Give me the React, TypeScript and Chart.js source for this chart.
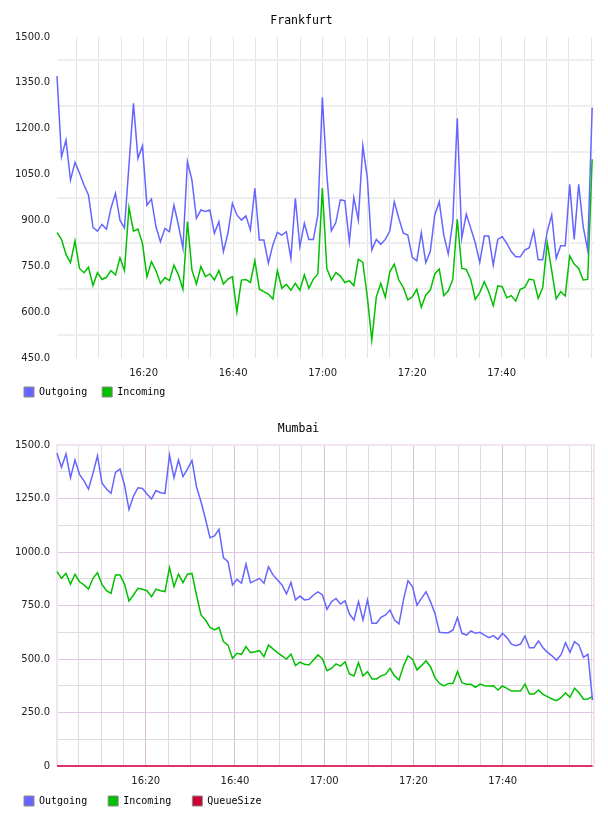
import React, { useEffect, useRef } from 'react';
import { Chart, registerables } from 'chart.js';

Chart.register(...registerables);

// ---------- data ----------
const frankfurtOutgoing = [
  1372, 1108, 1163, 1032, 1090, 1055, 1016, 983, 877, 865,
  887, 871, 940, 989, 901, 875, 1080, 1283, 1103, 1144,
  950, 970, 880, 830, 874, 863, 950, 885, 809, 1092,
  1032, 907, 934, 929, 934, 858, 896, 798, 858, 956,
  918, 901, 915, 869, 1005, 836, 836, 760, 820, 861,
  852, 863, 776, 972, 814, 891, 838, 838, 918, 1303,
  1050, 866, 893, 967, 965, 830, 975, 901, 1144, 1040,
  803, 838, 822, 838, 865, 961, 907, 858, 852, 779,
  768, 860, 762, 798, 918, 961, 852, 790, 896, 1234,
  842, 921, 874, 827, 763, 849, 849, 754, 838, 847,
  825, 798, 781, 781, 803, 811, 866, 771, 771, 863,
  918, 776, 817, 817, 1018, 838, 1018, 880, 803, 1269,
];
const frankfurtIncoming = [
  860, 838, 789, 762, 833, 743, 729, 747, 687, 729,
  707, 714, 736, 722, 778, 736, 943, 865, 872, 825,
  716, 765, 736, 694, 713, 703, 754, 722, 675, 896,
  738, 692, 749, 716, 725, 705, 736, 692, 708, 716,
  601, 705, 707, 697, 768, 675, 667, 659, 643, 736,
  678, 691, 672, 694, 672, 722, 678, 708, 725, 1005,
  743, 705, 729, 718, 697, 703, 686, 773, 763, 650,
  509, 650, 694, 649, 732, 757, 705, 681, 640, 650,
  675, 616, 656, 672, 725, 741, 654, 670, 707, 904,
  743, 740, 707, 642, 664, 700, 667, 621, 686, 683,
  647, 654, 636, 675, 681, 708, 705, 645, 680, 827,
  736, 643, 667, 653, 784, 757, 743, 705, 707, 1100,
];
const mumbaiOutgoing = [
  1461, 1396, 1458, 1347, 1430, 1363, 1332, 1294, 1368, 1450,
  1321, 1294, 1274, 1372, 1388, 1313, 1199, 1262, 1300, 1297,
  1271, 1248, 1287, 1277, 1274, 1453, 1347, 1430, 1352, 1388,
  1427, 1305, 1235, 1154, 1067, 1075, 1106, 973, 955, 846,
  872, 854, 944, 857, 866, 877, 854, 931, 893, 869,
  846, 804, 858, 776, 794, 776, 779, 799, 814, 799,
  732, 768, 783, 757, 772, 710, 682, 768, 682, 776,
  667, 667, 695, 706, 729, 682, 664, 776, 866, 838,
  752, 783, 814, 768, 713, 625, 623, 623, 636, 693,
  620, 612, 631, 620, 625, 612, 600, 609, 592, 620,
  600, 569, 562, 570, 607, 553, 553, 585, 553, 531,
  515, 495, 519, 576, 531, 581, 565, 508, 522, 308,
];
const mumbaiIncoming = [
  908, 877, 900, 850, 896, 861, 846, 827, 877, 903,
  849, 819, 807, 893, 893, 850, 771, 799, 830, 826,
  819, 791, 826, 819, 815, 927, 838, 897, 857, 896,
  900, 799, 706, 682, 648, 636, 648, 581, 565, 503,
  527, 522, 558, 530, 534, 539, 511, 565, 547, 530,
  515, 500, 523, 469, 485, 475, 472, 495, 519, 500,
  445, 456, 477, 467, 487, 430, 421, 483, 421, 441,
  407, 407, 421, 428, 456, 421, 402, 467, 514, 499,
  449, 469, 492, 464, 413, 386, 374, 386, 386, 441,
  389, 382, 382, 368, 383, 375, 374, 375, 355, 374,
  363, 350, 350, 350, 383, 336, 336, 355, 335, 324,
  313, 305, 319, 342, 321, 363, 342, 312, 313, 324,
];
const mumbaiQueueSize = [
  0, 0, 0, 0, 0, 0, 0, 0, 0, 0, 0, 0, 0, 0, 0, 0, 0, 0, 0, 0,
  0, 0, 0, 0, 0, 0, 0, 0, 0, 0, 0, 0, 0, 0, 0, 0, 0, 0, 0, 0,
  0, 0, 0, 0, 0, 0, 0, 0, 0, 0, 0, 0, 0, 0, 0, 0, 0, 0, 0, 0,
  0, 0, 0, 0, 0, 0, 0, 0, 0, 0, 0, 0, 0, 0, 0, 0, 0, 0, 0, 0,
  0, 0, 0, 0, 0, 0, 0, 0, 0, 0, 0, 0, 0, 0, 0, 0, 0, 0, 0, 0,
  0, 0, 0, 0, 0, 0, 0, 0, 0, 0, 0, 0, 0, 0, 0, 0, 0, 0, 0, 0,
];

// sample times: seconds after 16:00:00
const frankfurtStartSec = 38;
const frankfurtStepSec = 60.3;
const frankfurtEndSec = 7238;
const mumbaiStartSec = 7;
const mumbaiStepSec = 60.5;
const mumbaiEndSec = 7227;
const baseHour = 16;

// x tick labels shown on the time axis
const timeTickLabels = ['16:20', '16:40', '17:00', '17:20', '17:40'];
const timeGridEverySec = 300; // grid every 5 minutes

const frankfurtYTicks = { min: 450, max: 1500, grid: 75, label: 150 };
const mumbaiYTicks = { min: 0, max: 1500, grid: 125, label: 250 };

const COLOR_OUT = '#6666ff';
const COLOR_IN = '#00c000';
const COLOR_QUEUE = '#cc0033';
const COLOR_QUEUE_LINE = '#dd3366';

const seriesTimes = (start: number, step: number, n: number) =>
  Array.from({ length: n }, (_, i) => start + i * step);

const fmtTime = (sec: number) => {
  const totalMin = Math.round(sec / 60);
  const h = baseHour + Math.floor(totalMin / 60);
  const m = totalMin % 60;
  return `${h}:${m < 10 ? '0' + m : m}`;
};
const isLabelledTime = (sec: number) => timeTickLabels.includes(fmtTime(sec));

const frameBorder = {
  id: 'frameBorder',
  beforeDatasetsDraw(chart: any, _args: any, o: any) {
    if (!o || !o.color) return;
    const { ctx, chartArea } = chart;
    const { left, right, top, bottom } = chartArea;
    ctx.save();
    ctx.strokeStyle = o.color;
    ctx.lineWidth = o.width;
    ctx.beginPath();
    ctx.moveTo(left, bottom);
    ctx.lineTo(left, top);
    ctx.lineTo(right, top);
    ctx.lineTo(right, bottom);
    ctx.stroke();
    ctx.restore();
  },
};

type Series = { label: string; values: number[]; color: string; lineColor?: string; width: number };

type ChartSpec = {
  title: string;
  series: Series[];
  startSec: number;
  stepSec: number;
  endSec: number;
  yTicks: { min: number; max: number; grid: number; label: number };
  zeroLabel: string;
  legendPadding: number;
  padLeft: number;
  padBottom: number;
  yWidth: number;
  xHeight: number;
  hGridPlain: string;
  hGridLabel: string;
  hGridWidth: number;
  vGridPlain: string;
  vGridLabel: string;
  frame: string | null;
};

const LABEL_FONT = { family: 'DejaVu Sans', size: 10 };

function buildConfig(spec: ChartSpec): any {
  const n = spec.series[0].values.length;
  const times = seriesTimes(spec.startSec, spec.stepSec, n);
  const yt = spec.yTicks;
  return {
    type: 'line',
    data: {
      datasets: spec.series.map((s) => ({
        label: s.label,
        data: s.values.map((v, i) => ({ x: times[i], y: v })),
        borderColor: s.lineColor || s.color,
        backgroundColor: s.color,
        borderWidth: s.width,
        pointRadius: 0,
        pointHoverRadius: 0,
        tension: 0,
        fill: false,
        clip: false,
      })),
    },
    plugins: [frameBorder],
    options: {
      animation: false,
      responsive: false,
      maintainAspectRatio: false,
      layout: { padding: { left: spec.padLeft, right: 14, top: 0, bottom: spec.padBottom } },
      plugins: {
        frameBorder: spec.frame ? { color: spec.frame, width: 2 } : {},
        tooltip: { enabled: false },
        title: {
          display: true,
          text: spec.title,
          color: '#000',
          font: { family: 'DejaVu Sans Mono', size: 11.5, weight: 'normal', lineHeight: '14px' },
          padding: { top: 14, bottom: 9 },
        },
        legend: {
          display: true,
          position: 'bottom',
          align: 'start',
          labels: {
            boxWidth: 10,
            boxHeight: 10,
            padding: spec.legendPadding,
            color: '#000',
            font: { family: 'DejaVu Sans Mono', size: 10 },
            generateLabels: (chart: any) =>
              (Chart.defaults.plugins.legend.labels as any)
                .generateLabels(chart)
                .map((l: any) => ({ ...l, strokeStyle: '#8a8a8a', lineWidth: 1 })),
          },
        },
      },
      scales: {
        x: {
          type: 'linear',
          min: spec.startSec,
          max: spec.endSec,
          afterFit: (scale: any) => {
            scale.height = spec.xHeight;
          },
          afterBuildTicks: (scale: any) => {
            const ticks: any[] = [];
            for (
              let v = Math.ceil(scale.min / timeGridEverySec) * timeGridEverySec;
              v <= scale.max;
              v += timeGridEverySec
            ) {
              ticks.push({ value: v });
            }
            scale.ticks = ticks;
          },
          ticks: {
            autoSkip: false,
            maxRotation: 0,
            minRotation: 0,
            mirror: true,
            padding: -21,
            color: '#222',
            font: LABEL_FONT,
            callback: (v: number) => (isLabelledTime(v) ? fmtTime(v) : ''),
          },
          grid: {
            drawTicks: false,
            lineWidth: 1,
            color: (ctx: any) =>
              ctx.tick && isLabelledTime(ctx.tick.value) ? spec.vGridLabel : spec.vGridPlain,
          },
          border: { display: false },
        },
        y: {
          type: 'linear',
          min: yt.min,
          max: yt.max,
          afterFit: (scale: any) => {
            scale.width = spec.yWidth;
          },
          ticks: {
            stepSize: yt.grid,
            autoSkip: false,
            padding: 7,
            color: '#222',
            font: LABEL_FONT,
            callback: (v: number) => {
              if ((v - yt.min) % yt.label !== 0) return '';
              if (v === 0) return spec.zeroLabel;
              return v.toFixed(1);
            },
          },
          grid: {
            drawTicks: false,
            lineWidth: spec.hGridWidth,
            color: (ctx: any) =>
              ctx.tick && (ctx.tick.value - yt.min) % yt.label === 0 ? spec.hGridLabel : spec.hGridPlain,
          },
          border: spec.frame ? { display: true, color: '#ead4ea', width: 1 } : { display: false },
        },
      },
    },
  };
}

const frankfurtSpec: ChartSpec = {
  title: 'Frankfurt',
  series: [
    { label: 'Outgoing', values: frankfurtOutgoing, color: COLOR_OUT, width: 1.5 },
    { label: 'Incoming', values: frankfurtIncoming, color: COLOR_IN, width: 1.5 },
  ],
  startSec: frankfurtStartSec,
  stepSec: frankfurtStepSec,
  endSec: frankfurtEndSec,
  yTicks: frankfurtYTicks,
  zeroLabel: '0',
  legendPadding: 15,
  padLeft: 9,
  padBottom: 1,
  yWidth: 48,
  xHeight: 14,
  hGridPlain: '#eeeeee',
  hGridLabel: 'rgba(0,0,0,0)',
  hGridWidth: 2,
  vGridPlain: '#e4e4e4',
  vGridLabel: '#e4e4e4',
  frame: null,
};

const mumbaiSpec: ChartSpec = {
  title: 'Mumbai',
  series: [
    { label: 'Outgoing', values: mumbaiOutgoing, color: COLOR_OUT, width: 1.5 },
    { label: 'Incoming', values: mumbaiIncoming, color: COLOR_IN, width: 1.5 },
    { label: 'QueueSize', values: mumbaiQueueSize, color: COLOR_QUEUE, lineColor: COLOR_QUEUE_LINE, width: 2 },
  ],
  startSec: mumbaiStartSec,
  stepSec: mumbaiStepSec,
  endSec: mumbaiEndSec,
  yTicks: mumbaiYTicks,
  zeroLabel: '0',
  legendPadding: 21,
  padLeft: 3,
  padBottom: 0,
  yWidth: 54,
  xHeight: 9,
  hGridPlain: '#dddddd',
  hGridLabel: '#e2c6e2',
  hGridWidth: 1,
  vGridPlain: '#dddddd',
  vGridLabel: '#dcbcdc',
  frame: '#f2e2f2',
};

function LineChart({ spec }: { spec: ChartSpec }) {
  const ref = useRef<HTMLCanvasElement | null>(null);
  useEffect(() => {
    if (!ref.current) return;
    const chart = new Chart(ref.current, buildConfig(spec));
    return () => chart.destroy();
  }, [spec]);
  return (
    <div style={{ width: 608, height: 408, position: 'relative' }}>
      <canvas ref={ref} width={608} height={408} style={{ display: 'block', width: 608, height: 408 }} />
    </div>
  );
}

export default function App() {
  return (
    <div style={{ position: 'absolute', left: 0, top: 0, width: 608, height: 816, background: '#fff' }}>
      <LineChart spec={frankfurtSpec} />
      <LineChart spec={mumbaiSpec} />
    </div>
  );
}
